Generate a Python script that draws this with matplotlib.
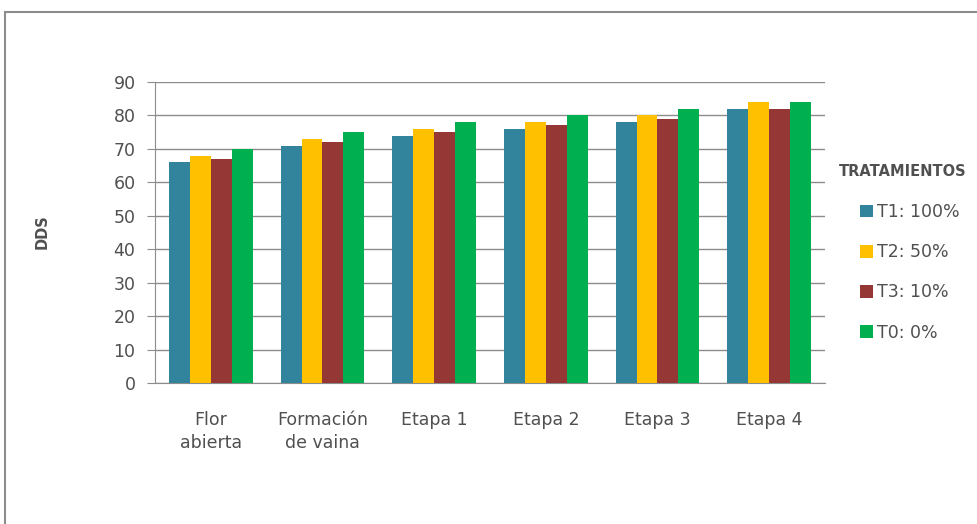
import matplotlib.pyplot as plt
import numpy as np
from matplotlib.patches import Rectangle

plt.rcParams['font.family'] = ['DejaVu Sans']

categories = ["Flor\nabierta", "Formación\nde vaina", "Etapa 1", "Etapa 2", "Etapa 3", "Etapa 4"]
series_names = ["T1: 100%", "T2: 50%", "T3: 10%", "T0: 0%"]
t1 = [66, 71, 74, 76, 78, 82]
t2 = [68, 73, 76, 78, 80, 84]
t3 = [67, 72, 75, 77, 79, 82]
t0 = [70, 75, 78, 80, 82, 84]
colors = ["#31849B", "#FFC000", "#953735", "#00B050"]

txt = "#505050"
grid_c = "#8c8c8c"
W, H = 978, 524
fig = plt.figure(figsize=(W / 100, H / 100), dpi=100)
# outer chart border (left and top edges visible in the original crop)
fig.patches.append(Rectangle((5 / W, -0.1), 1.1, 1.1 - 12 / H, transform=fig.transFigure,
                             fill=False, edgecolor="#8c8c8c", linewidth=1.5))
ax = fig.add_axes([155 / W, 1 - 383 / H, 670 / W, 301 / H])

x = np.arange(len(categories))
w = 0.1875
for i, (vals, name) in enumerate(zip([t1, t2, t3, t0], series_names)):
    ax.bar(x + (i - 1.5) * w, vals, width=w, color=colors[i], label=name, zorder=3)

ax.set_xlim(-0.5, len(categories) - 0.5)
ax.set_ylim(0, 90)
ax.set_yticks(np.arange(0, 91, 10))
ax.set_xticks(x)
ax.set_xticklabels(categories, fontsize=12.5, color=txt, linespacing=1.4)
ax.tick_params(axis="x", length=0, pad=20)
ax.tick_params(axis="y", length=6, color=grid_c, labelsize=12.5, labelcolor=txt, pad=8)
ax.grid(axis="y", color=grid_c, linewidth=1, zorder=0)
for s in ["top", "right"]:
    ax.spines[s].set_visible(False)
for s in ["left", "bottom"]:
    ax.spines[s].set_color(grid_c)
ax.set_ylabel("DDS", fontsize=10.5, fontweight="bold", color=txt)
ax.yaxis.set_label_coords((50 - 155) / 670, (383 - 232) / 301)

fig.text(903 / W, 1 - 172 / H, "TRATAMIENTOS", fontsize=10.5, fontweight="bold",
         color=txt, ha="center", va="center")
leg = fig.legend(loc="upper left", bbox_to_anchor=(860 / W, 1 - 203 / H), frameon=False,
                 fontsize=12.5, labelspacing=1.28, handlelength=0.75, handleheight=0.75,
                 handletextpad=0.25, borderaxespad=0, borderpad=0)
for t in leg.get_texts():
    t.set_color(txt)

fig.savefig("out.png", dpi=100)
